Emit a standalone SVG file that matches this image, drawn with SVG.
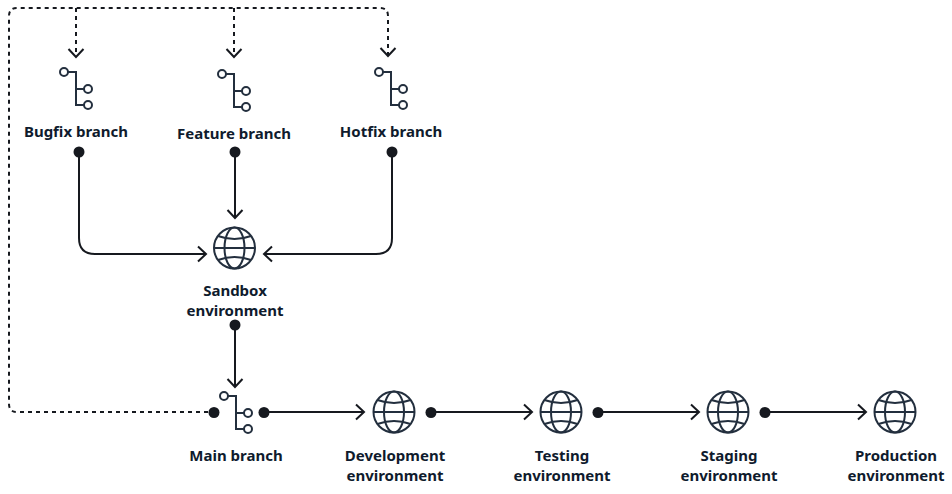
<svg xmlns="http://www.w3.org/2000/svg" width="952" height="494" viewBox="0 0 952 494">
<style>
.l{font-family:"Noto Sans","Open Sans","Liberation Sans",sans-serif;font-weight:700;font-size:15px;fill:#0f1b2d;text-anchor:middle}
.c{fill:none;stroke:#16191f;stroke-width:2}
.d{stroke-dasharray:4 4}
.i{fill:none;stroke:#232f3e;stroke-width:2}
.dot{fill:#16191f}
</style>
<defs>
<marker id="a" markerUnits="userSpaceOnUse" markerWidth="16" markerHeight="18" refX="13" refY="9" orient="auto"><path d="M5 1.500L13 9L5 16.500" fill="none" stroke="#16191f" stroke-width="2"/></marker>
<g id="branch" class="i"><circle cx="-12" cy="0" r="4"/><path d="M-8 0H0V33H8M0 17H8"/><circle cx="12" cy="17" r="4"/><circle cx="12" cy="33" r="4"/></g>
<g id="globe" class="i"><circle r="20.500"/><ellipse rx="10" ry="20.500"/><path d="M-20.500 0H20.500M-16.500 -12Q0 -6 16.500 -12M-16.500 12Q0 6 16.500 12"/></g>
</defs>
<g id="connectors">
<path class="c d" d="M208 412H17Q9 412 9 404V16Q9 8 17 8H380Q388 8 388 16V56" marker-end="url(#a)"/>
<path class="c d" d="M76 8V57" marker-end="url(#a)"/>
<path class="c d" d="M234 8V57" marker-end="url(#a)"/>
<path class="c" d="M79 152V238Q79 254 95 254H206" marker-end="url(#a)"/>
<path class="c" d="M235 152V218" marker-end="url(#a)"/>
<path class="c" d="M392 152V238Q392 254 376 254H264" marker-end="url(#a)"/>
<path class="c" d="M235 325V387" marker-end="url(#a)"/>
<path class="c" d="M264 412H364" marker-end="url(#a)"/>
<path class="c" d="M431 412H532" marker-end="url(#a)"/>
<path class="c" d="M598 412H699" marker-end="url(#a)"/>
<path class="c" d="M765 412H866" marker-end="url(#a)"/>
<circle class="dot" cx="79" cy="152" r="5.500"/><circle class="dot" cx="235" cy="152" r="5.500"/><circle class="dot" cx="392" cy="152" r="5.500"/><circle class="dot" cx="235" cy="325" r="5.500"/><circle class="dot" cx="214" cy="412.500" r="5.500"/><circle class="dot" cx="264" cy="412.500" r="5.500"/><circle class="dot" cx="431" cy="412.500" r="5.500"/><circle class="dot" cx="598" cy="412.500" r="5.500"/><circle class="dot" cx="765" cy="412.500" r="5.500"/>
</g>
<g id="bugfix"><use href="#branch" x="76" y="72"/><text class="l" x="76" y="137">Bugfix branch</text></g>
<g id="feature"><use href="#branch" x="234" y="74"/><text class="l" x="234" y="139">Feature branch</text></g>
<g id="hotfix"><use href="#branch" x="391" y="72"/><text class="l" x="391" y="137">Hotfix branch</text></g>
<g id="sandbox"><use href="#globe" x="234.500" y="248"/><text class="l" x="235" y="296">Sandbox</text><text class="l" x="235" y="316">environment</text></g>
<g id="main"><use href="#branch" x="236" y="396"/><text class="l" x="236" y="461">Main branch</text></g>
<g id="development"><use href="#globe" x="394" y="412"/><text class="l" x="395" y="461">Development</text><text class="l" x="395" y="481">environment</text></g>
<g id="testing"><use href="#globe" x="561" y="412"/><text class="l" x="562" y="461">Testing</text><text class="l" x="562" y="481">environment</text></g>
<g id="staging"><use href="#globe" x="728" y="412"/><text class="l" x="729" y="461">Staging</text><text class="l" x="729" y="481">environment</text></g>
<g id="production"><use href="#globe" x="895" y="412"/><text class="l" x="896" y="461">Production</text><text class="l" x="896" y="481">environment</text></g>
</svg>
